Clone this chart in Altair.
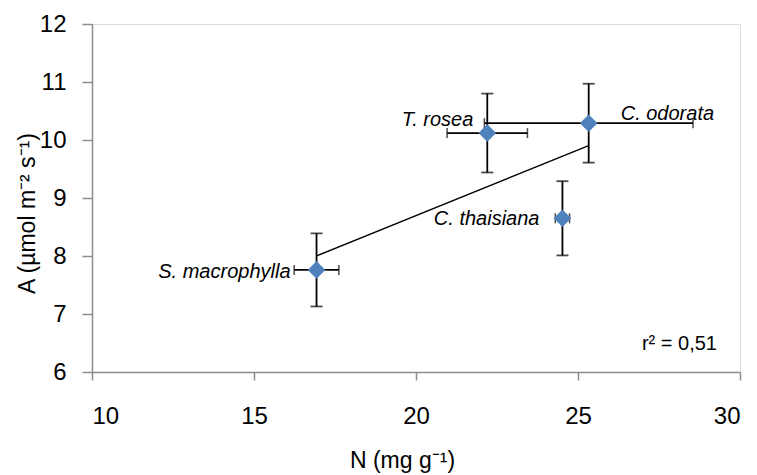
import altair as alt
import pandas as pd

# Leaf nitrogen (N) vs. photosynthetic rate (A) per species, mean ± error
species = ["S. macrophylla", "T. rosea", "C. odorata", "C. thaisiana"]
n_mean = [16.93, 22.20, 25.33, 24.52]
n_err = [0.69, 1.24, 3.22, 0.22]
a_mean = [7.76, 10.12, 10.29, 8.65]
a_err = [0.63, 0.68, 0.68, 0.64]
x_ticks = [10, 15, 20, 25, 30]
y_ticks = [6, 7, 8, 9, 10, 11, 12]
r2_text = "r² = 0,51"

df = pd.DataFrame({"species": species, "N": n_mean, "Nerr": n_err,
                   "A": a_mean, "Aerr": a_err})

W, H = 648, 348
FONT = "Liberation Sans"
GRAY = "#8c8c8c"
BLUE = "#4F81BD"

xs = alt.Scale(domain=[10, 30], nice=False, zero=False)
ys = alt.Scale(domain=[6, 12], nice=False, zero=False)

x_axis = alt.Axis(values=x_ticks, format="d", grid=False, domainColor=GRAY,
                  domainWidth=1.5, tickColor=GRAY, tickWidth=1.5, tickSize=8,
                  labelPadding=24, labelFontSize=24, labelFont=FONT,
                  labelColor="black",
                  title="N (mg g⁻¹)", titleFont=FONT, titleFontSize=23,
                  titleFontWeight="normal", titleColor="black",
                  titleX=310, titleY=95, titleBaseline="alphabetic",
                  titleAlign="center")
y_axis = alt.Axis(values=y_ticks, format="d", grid=False, domainColor=GRAY,
                  domainWidth=1.5, tickColor=GRAY, tickWidth=1.5, tickSize=10,
                  labelPadding=16, labelFontSize=24, labelFont=FONT,
                  labelColor="black",
                  title="A (µmol m⁻² s⁻¹)", titleFont=FONT, titleFontSize=23,
                  titleFontWeight="normal", titleColor="black",
                  titleX=-58, titleY=189, titleBaseline="alphabetic",
                  titleAlign="center", titleAngle=-90)

base = alt.Chart(df).transform_calculate(
    N_lo="datum.N - datum.Nerr", N_hi="datum.N + datum.Nerr",
    A_lo="datum.A - datum.Aerr", A_hi="datum.A + datum.Aerr",
)

fit = alt.Chart(df).transform_regression("N", "A").mark_line(
    color="black", strokeWidth=1.5
).encode(x=alt.X("N:Q", scale=xs, axis=x_axis), y=alt.Y("A:Q", scale=ys, axis=y_axis))

x_bars = base.mark_rule(color="black", strokeWidth=1.8).encode(
    x=alt.X("N_lo:Q", scale=xs), x2="N_hi:Q", y=alt.Y("A:Q", scale=ys))
y_bars = base.mark_rule(color="black", strokeWidth=1.8).encode(
    y=alt.Y("A_lo:Q", scale=ys), y2="A_hi:Q", x=alt.X("N:Q", scale=xs))

x_caps = alt.layer(*[
    base.mark_tick(orient="vertical", color="black", size=10, thickness=1.5).encode(
        x=alt.X(f"{f}:Q", scale=xs), y=alt.Y("A:Q", scale=ys))
    for f in ("N_lo", "N_hi")
])
y_caps = alt.layer(*[
    base.mark_tick(orient="horizontal", color="black", size=12, thickness=1.8).encode(
        y=alt.Y(f"{f}:Q", scale=ys), x=alt.X("N:Q", scale=xs))
    for f in ("A_lo", "A_hi")
])

points = base.mark_point(shape="diamond", filled=True, size=310, color=BLUE,
                         opacity=1, strokeWidth=0).encode(
    x=alt.X("N:Q", scale=xs), y=alt.Y("A:Q", scale=ys))

# label placement per species: (align, dx, dy)
label_style = {
    "S. macrophylla": ("right", -26, 2),
    "T. rosea": ("right", -14, -13),
    "C. odorata": ("left", 32, -9),
    "C. thaisiana": ("right", -23, 1),
}
labels = alt.layer(*[
    base.transform_filter(alt.datum.species == sp).mark_text(
        align=al, baseline="middle", dx=dx, dy=dy, font=FONT, fontSize=20,
        fontStyle="italic", color="black"
    ).encode(x=alt.X("N:Q", scale=xs), y=alt.Y("A:Q", scale=ys), text="species:N")
    for sp, (al, dx, dy) in label_style.items()
])

r2 = alt.Chart(pd.DataFrame({"t": [r2_text]})).mark_text(
    align="right", baseline="alphabetic", font=FONT, fontSize=20, color="black"
).encode(x=alt.value(W - 23), y=alt.value(H - 22), text="t:N")

chart = alt.layer(fit, x_bars, y_bars, x_caps, y_caps, points, labels, r2).properties(
    width=W, height=H,
    autosize=alt.AutoSizeParams(type="none"),
    padding={"left": 92, "top": 24, "right": 17, "bottom": 103},
).configure_view(stroke=GRAY, strokeWidth=1.5).configure(background="white")

chart.save("out.html", embed_options={"renderer": "svg", "actions": False})
